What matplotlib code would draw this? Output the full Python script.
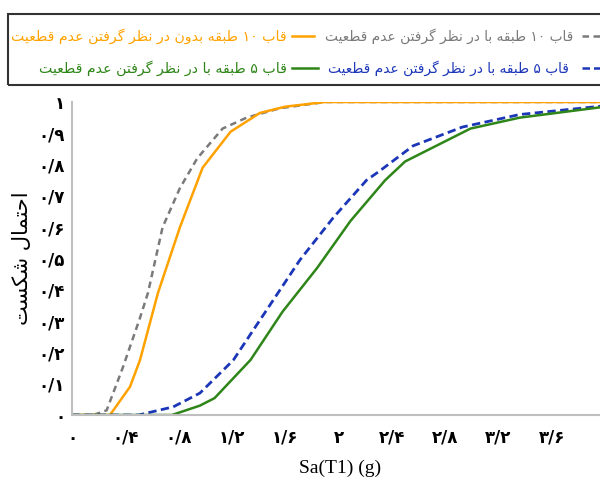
import re
import matplotlib
matplotlib.use("Agg")
import matplotlib.pyplot as plt
from matplotlib.lines import Line2D
from matplotlib.patches import Rectangle

# ---------------- data ----------------
x_10_unc = [0, 0.16, 0.26, 0.38, 0.51, 0.57, 0.68, 0.81, 0.94, 1.13, 1.31, 1.56, 1.9, 4.0]
p_10_unc = [0, 0, 0.015, 0.15, 0.31, 0.39, 0.60, 0.725, 0.82, 0.915, 0.95, 0.98, 1.0, 1.0]

x_10_det = [0, 0.285, 0.435, 0.51, 0.645, 0.81, 0.98, 1.19, 1.41, 1.6, 1.9, 4.0]
p_10_det = [0, 0, 0.09, 0.175, 0.39, 0.60, 0.79, 0.905, 0.965, 0.985, 1.0, 1.0]

x_5_unc = [0, 0.5, 0.76, 0.96, 1.21, 1.46, 1.71, 1.96, 2.21, 2.31, 2.56, 2.93, 3.36, 4.0]
p_5_unc = [0, 0, 0.026, 0.07, 0.175, 0.335, 0.495, 0.63, 0.75, 0.78, 0.86, 0.92, 0.96, 0.988]

x_5_det = [0, 0.75, 0.96, 1.07, 1.34, 1.58, 1.84, 2.09, 2.35, 2.50, 2.99, 3.36, 4.0]
p_5_det = [0, 0, 0.03, 0.054, 0.176, 0.33, 0.47, 0.62, 0.75, 0.81, 0.915, 0.95, 0.985]

x_ticks = [0, 0.4, 0.8, 1.2, 1.6, 2.0, 2.4, 2.8, 3.2, 3.6, 4.0]
x_tick_labels = ["۰", "۰/۴", "۰/۸", "۱/۲", "۱/۶", "۲", "۲/۴", "۲/۸", "۳/۲", "۳/۶", "۴"]
y_ticks = [0, 0.1, 0.2, 0.3, 0.4, 0.5, 0.6, 0.7, 0.8, 0.9, 1.0]
y_tick_labels = ["۰", "۰/۱", "۰/۲", "۰/۳", "۰/۴", "۰/۵", "۰/۶", "۰/۷", "۰/۸", "۰/۹", "۱"]

label_10_unc = "قاب ۱۰ طبقه با در نظر گرفتن عدم قطعیت"
label_10_det = "قاب ۱۰ طبقه بدون در نظر گرفتن عدم قطعیت"
label_5_unc = "قاب ۵ طبقه با در نظر گرفتن عدم قطعیت"
label_5_det = "قاب ۵ طبقه با در نظر گرفتن عدم قطعیت"
y_label = "احتمال شکست"
x_label = "Sa(T1) (g)"

# ------------- minimal Arabic/Persian shaping -------------
FORMS = {
    "ا": (0xFE8D, 0xFE8E), "د": (0xFEA9, 0xFEAA), "ر": (0xFEAD, 0xFEAE),
    "و": (0xFEED, 0xFEEE),
    "ب": (0xFE8F, 0xFE90, 0xFE91, 0xFE92), "ت": (0xFE95, 0xFE96, 0xFE97, 0xFE98),
    "ح": (0xFEA1, 0xFEA2, 0xFEA3, 0xFEA4), "س": (0xFEB1, 0xFEB2, 0xFEB3, 0xFEB4),
    "ش": (0xFEB5, 0xFEB6, 0xFEB7, 0xFEB8), "ط": (0xFEC1, 0xFEC2, 0xFEC3, 0xFEC4),
    "ظ": (0xFEC5, 0xFEC6, 0xFEC7, 0xFEC8), "ع": (0xFEC9, 0xFECA, 0xFECB, 0xFECC),
    "ف": (0xFED1, 0xFED2, 0xFED3, 0xFED4), "ق": (0xFED5, 0xFED6, 0xFED7, 0xFED8),
    "ل": (0xFEDD, 0xFEDE, 0xFEDF, 0xFEE0), "م": (0xFEE1, 0xFEE2, 0xFEE3, 0xFEE4),
    "ن": (0xFEE5, 0xFEE6, 0xFEE7, 0xFEE8), "ه": (0xFEE9, 0xFEEA, 0xFEEB, 0xFEEC),
    "ک": (0xFB8E, 0xFB8F, 0xFB90, 0xFB91), "گ": (0xFB92, 0xFB93, 0xFB94, 0xFB95),
    "ی": (0xFBFC, 0xFBFD, 0xFBFE, 0xFBFF),
}


def rtl(s):
    out = []
    for i, c in enumerate(s):
        if c not in FORMS:
            out.append(c)
            continue
        f = FORMS[c]
        prev = s[i - 1] if i > 0 else None
        nxt = s[i + 1] if i + 1 < len(s) else None
        jp = prev in FORMS and len(FORMS[prev]) == 4
        jn = len(f) == 4 and nxt in FORMS
        if jp and jn:
            code = f[3]
        elif jp:
            code = f[1]
        elif jn:
            code = f[2]
        else:
            code = f[0]
        out.append(chr(code))
    rev = "".join(out)[::-1]
    return re.sub(r"[۰-۹0-9/]+", lambda m: m.group(0)[::-1], rev)


# ---------------- figure ----------------
W, H = 600, 487
fig = plt.figure(figsize=(W / 100, H / 100), dpi=100)


def fx(px):
    return px / W


def fy(py):
    return 1 - py / H


ax_left, ax_right, ax_top, ax_bot = 72, 605, 102, 415
ax = fig.add_axes([fx(ax_left), fy(ax_bot), fx(ax_right - ax_left), (ax_bot - ax_top) / H])

c_gray, c_orange, c_blue, c_green = "#7a7a7a", "#ffa200", "#1c36b8", "#2e8518"

ax.plot(x_10_unc, p_10_unc, color=c_gray, lw=1.8, ls=(0, (2.6, 1.8)))
ax.plot(x_10_det, p_10_det, color=c_orange, lw=1.8)
ax.plot(x_5_unc, p_5_unc, color=c_blue, lw=2.0, ls=(0, (3, 1.6)))
ax.plot(x_5_det, p_5_det, color=c_green, lw=1.8)

ax.set_xlim(0, 4.0)
ax.set_ylim(0, 1.0)
for s in ["top", "right"]:
    ax.spines[s].set_visible(False)
for s in ["left", "bottom"]:
    ax.spines[s].set_color("#bfbfbf")
    ax.spines[s].set_linewidth(1.5)

ax.set_xticks(x_ticks)
ax.set_xticklabels(x_tick_labels, family=["DejaVu Sans"], fontsize=12, fontweight="bold")
ax.set_yticks(y_ticks)
ax.set_yticklabels(y_tick_labels, family=["DejaVu Sans"], fontsize=12, fontweight="bold")
ax.tick_params(axis="both", length=0)
ax.tick_params(axis="x", pad=10)
ax.tick_params(axis="y", pad=5)

fig.text(fx(22), fy(258), rtl(y_label), rotation=90, ha="center", va="center",
         family=["DejaVu Sans"], fontsize=15)
fig.text(fx(340), fy(468), x_label, ha="center", va="center",
         family=["Liberation Serif"], fontsize=14)

# ---------------- legend box ----------------
fig.patches.append(Rectangle((fx(8), fy(85)), fx(700), (85 - 14) / H,
                             transform=fig.transFigure, fill=False,
                             edgecolor="#333333", lw=1.5))

row1, row2 = 36, 68
legend_rows = [
    (row1, 582, 610, c_gray, (0, (2.6, 1.8)), label_10_unc, 573, 9.9),
    (row1, 292, 314, c_orange, "-", label_10_det, 287, 10.2),
    (row2, 582, 610, c_blue, (0, (3, 1.6)), label_5_unc, 569, 9.9),
    (row2, 292, 318, c_green, "-", label_5_det, 287, 10.2),
]
for y, x0, x1, col, ls, lab, tx, fs in legend_rows:
    fig.lines.append(Line2D([fx(x0), fx(x1)], [fy(y), fy(y)], transform=fig.transFigure,
                            color=col, lw=1.8, ls=ls))
    fig.text(fx(tx), fy(y), rtl(lab), ha="right", va="center", color=col,
             family=["DejaVu Sans"], fontsize=fs)

fig.savefig("out.png", dpi=100)
